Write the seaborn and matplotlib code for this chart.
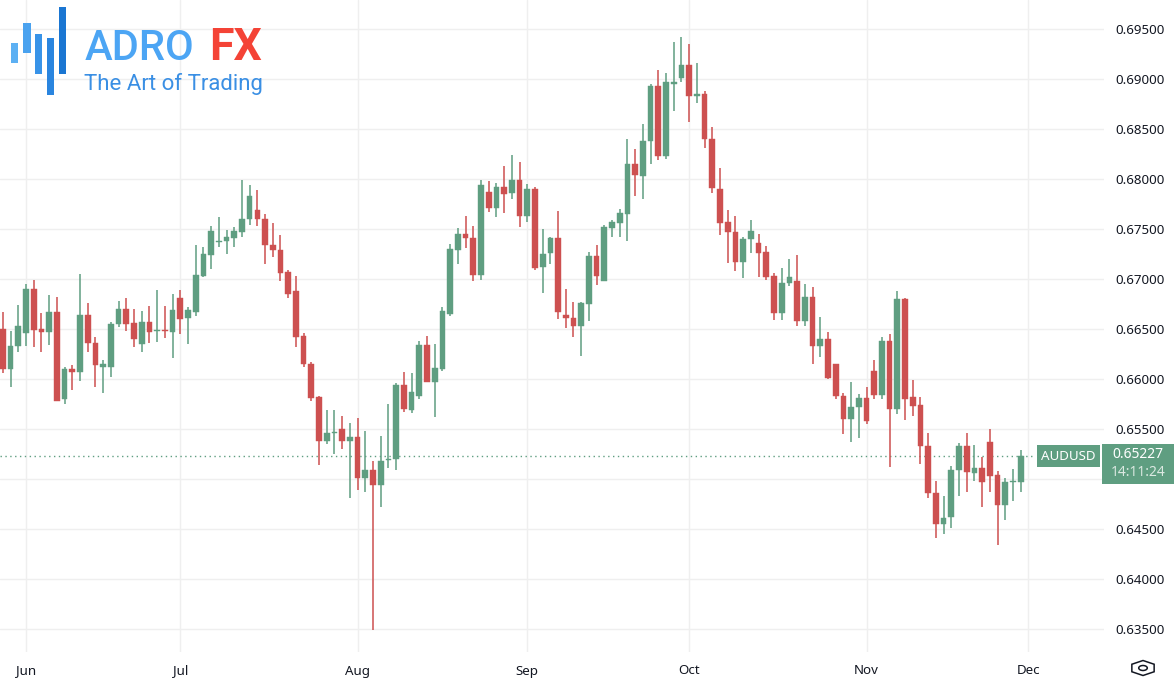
import numpy as np
import pandas as pd
import matplotlib
matplotlib.use("Agg")
import matplotlib.pyplot as plt
from matplotlib.patches import Rectangle, RegularPolygon, Circle
import seaborn as sns

# ---------------- data (AUDUSD daily) ----------------
dates = pd.bdate_range("2024-05-29", "2024-11-29")
open_ = [0.6650, 0.6610, 0.6633, 0.6646, 0.6690, 0.6650, 0.6647, 0.6667, 0.6580, 0.6610,
         0.6607, 0.6664, 0.6636, 0.6612, 0.6612, 0.6655, 0.6670, 0.6656, 0.6635, 0.6657,
         0.6648, 0.6649, 0.6647, 0.6681, 0.6661, 0.6667, 0.6703, 0.6724, 0.6737, 0.6738,
         0.6741, 0.6747, 0.6760, 0.6769, 0.6760, 0.6734, 0.6729, 0.6707, 0.6688, 0.6643,
         0.6615, 0.6582, 0.6538, 0.6546, 0.6550, 0.6538, 0.6542, 0.6501, 0.6509, 0.6494,
         0.6519, 0.6520, 0.6594, 0.6569, 0.6583, 0.6634, 0.6597, 0.6610, 0.6665, 0.6729,
         0.6745, 0.6741, 0.6704, 0.6787, 0.6771, 0.6792, 0.6786, 0.6799, 0.6763, 0.6790,
         0.6712, 0.6726, 0.6741, 0.6664, 0.6661, 0.6653, 0.6675, 0.6723, 0.6698, 0.6751,
         0.6756, 0.6765, 0.6815, 0.6803, 0.6838, 0.6893, 0.6823, 0.6895, 0.6901, 0.6914,
         0.6883, 0.6885, 0.6840, 0.6790, 0.6757, 0.6747, 0.6717, 0.6740, 0.6736, 0.6727,
         0.6703, 0.6666, 0.6696, 0.6698, 0.6658, 0.6682, 0.6633, 0.6640, 0.6615, 0.6583,
         0.6560, 0.6572, 0.6581, 0.6608, 0.6584, 0.6638, 0.6570, 0.6680, 0.6582, 0.6574,
         0.6533, 0.6486, 0.6455, 0.6462, 0.6509, 0.6533, 0.6506, 0.6511, 0.6537, 0.6504,
         0.6474, 0.6497, 0.6497]
high = [0.6667, 0.6648, 0.6674, 0.6695, 0.6699, 0.6666, 0.6684, 0.6682, 0.6612, 0.6614,
        0.6705, 0.6676, 0.6642, 0.6619, 0.6657, 0.6678, 0.6681, 0.6670, 0.6668, 0.6673,
        0.6689, 0.6673, 0.6685, 0.6689, 0.6672, 0.6734, 0.6732, 0.6753, 0.6762, 0.6749,
        0.6752, 0.6799, 0.6794, 0.6789, 0.6765, 0.6756, 0.6744, 0.6709, 0.6703, 0.6646,
        0.6617, 0.6583, 0.6569, 0.6569, 0.6563, 0.6556, 0.6561, 0.6548, 0.6518, 0.6543,
        0.6575, 0.6596, 0.6607, 0.6606, 0.6638, 0.6643, 0.6635, 0.6672, 0.6735, 0.6751,
        0.6763, 0.6753, 0.6799, 0.6798, 0.6796, 0.6813, 0.6824, 0.6817, 0.6795, 0.6792,
        0.6750, 0.6742, 0.6768, 0.6690, 0.6677, 0.6677, 0.6727, 0.6734, 0.6754, 0.6759,
        0.6770, 0.6840, 0.6830, 0.6855, 0.6895, 0.6909, 0.6906, 0.6937, 0.6942, 0.6935,
        0.6916, 0.6888, 0.6852, 0.6811, 0.6769, 0.6763, 0.6742, 0.6759, 0.6745, 0.6733,
        0.6706, 0.6711, 0.6720, 0.6724, 0.6695, 0.6692, 0.6662, 0.6647, 0.6615, 0.6586,
        0.6597, 0.6585, 0.6592, 0.6619, 0.6642, 0.6645, 0.6688, 0.6681, 0.6599, 0.6582,
        0.6546, 0.6498, 0.6483, 0.6513, 0.6536, 0.6546, 0.6534, 0.6522, 0.6550, 0.6508,
        0.6501, 0.6510, 0.6529]
low = [0.6606, 0.6592, 0.6627, 0.6633, 0.6632, 0.6627, 0.6634, 0.6578, 0.6575, 0.6589,
       0.6598, 0.6627, 0.6592, 0.6586, 0.6602, 0.6652, 0.6648, 0.6632, 0.6627, 0.6636,
       0.6637, 0.6641, 0.6621, 0.6645, 0.6635, 0.6663, 0.6702, 0.6710, 0.6732, 0.6725,
       0.6732, 0.6742, 0.6754, 0.6753, 0.6715, 0.6722, 0.6698, 0.6681, 0.6632, 0.6612,
       0.6578, 0.6514, 0.6535, 0.6525, 0.6530, 0.6481, 0.6489, 0.6487, 0.6349, 0.6472,
       0.6511, 0.6509, 0.6567, 0.6566, 0.6580, 0.6597, 0.6562, 0.6608, 0.6663, 0.6715,
       0.6731, 0.6698, 0.6699, 0.6767, 0.6762, 0.6766, 0.6780, 0.6752, 0.6757, 0.6709,
       0.6686, 0.6715, 0.6660, 0.6651, 0.6642, 0.6623, 0.6658, 0.6694, 0.6698, 0.6742,
       0.6742, 0.6738, 0.6783, 0.6780, 0.6815, 0.6819, 0.6820, 0.6868, 0.6897, 0.6857,
       0.6876, 0.6831, 0.6786, 0.6744, 0.6716, 0.6708, 0.6701, 0.6726, 0.6702, 0.6699,
       0.6659, 0.6659, 0.6693, 0.6653, 0.6653, 0.6615, 0.6622, 0.6600, 0.6580, 0.6545,
       0.6537, 0.6541, 0.6555, 0.6580, 0.6580, 0.6512, 0.6565, 0.6559, 0.6563, 0.6515,
       0.6481, 0.6441, 0.6445, 0.6451, 0.6483, 0.6487, 0.6498, 0.6472, 0.6487, 0.6434,
       0.6459, 0.6478, 0.6487]
close = [0.6610, 0.6633, 0.6653, 0.6690, 0.6649, 0.6647, 0.6667, 0.6578, 0.6610, 0.6607,
         0.6664, 0.6636, 0.6614, 0.6615, 0.6655, 0.6670, 0.6655, 0.6640, 0.6657, 0.6647,
         0.6649, 0.6648, 0.6669, 0.6660, 0.6669, 0.6704, 0.6725, 0.6748, 0.6738, 0.6742,
         0.6748, 0.6760, 0.6783, 0.6760, 0.6734, 0.6729, 0.6706, 0.6685, 0.6642, 0.6615,
         0.6581, 0.6538, 0.6546, 0.6547, 0.6538, 0.6542, 0.6501, 0.6509, 0.6494, 0.6518,
         0.6520, 0.6594, 0.6570, 0.6587, 0.6634, 0.6597, 0.6611, 0.6668, 0.6730, 0.6745,
         0.6741, 0.6704, 0.6794, 0.6771, 0.6792, 0.6785, 0.6799, 0.6763, 0.6790, 0.6711,
         0.6725, 0.6741, 0.6667, 0.6661, 0.6653, 0.6676, 0.6723, 0.6703, 0.6752, 0.6757,
         0.6766, 0.6815, 0.6804, 0.6838, 0.6893, 0.6823, 0.6897, 0.6897, 0.6914, 0.6883,
         0.6885, 0.6840, 0.6791, 0.6756, 0.6747, 0.6717, 0.6740, 0.6748, 0.6726, 0.6702,
         0.6666, 0.6696, 0.6702, 0.6658, 0.6682, 0.6633, 0.6640, 0.6601, 0.6583, 0.6560,
         0.6572, 0.6581, 0.6558, 0.6584, 0.6638, 0.6570, 0.6680, 0.6580, 0.6573, 0.6533,
         0.6486, 0.6455, 0.6461, 0.6509, 0.6533, 0.6507, 0.6511, 0.6497, 0.6503, 0.6474,
         0.6497, 0.6498, 0.65227]
month_labels = ["Jun", "Jul", "Aug", "Sep", "Oct", "Nov", "Dec"]
yticks = [0.635, 0.640, 0.645, 0.650, 0.655, 0.660, 0.665, 0.670,
          0.675, 0.680, 0.685, 0.690, 0.695]
symbol = "AUDUSD"
last_price_text = "0.65227"
countdown_text = "14:11:24"

# ---------------- styling ----------------
sns.set_theme(style="white")
plt.rcParams["font.family"] = ["Noto Sans", "DejaVu Sans"]

W, H = 1174, 684
fig = plt.figure(figsize=(W / 100, H / 100), dpi=100)
fig.patch.set_facecolor("white")

def fx(x):
    return x / W

def fy(y):
    return 1 - y / H

ax = fig.add_axes([0, fy(652), fx(1104), (652) / H])
ax.set_facecolor("white")

UP = "#5f9e81"
DOWN = "#cd5050"
GRID = "#efefef"

df = pd.DataFrame({"date": dates, "open": open_, "high": high, "low": low, "close": close})
df["idx"] = np.arange(len(df))
df["up"] = df["close"] >= df["open"]
df["color"] = np.where(df["up"], UP, DOWN)
df["body_lo"] = df[["open", "close"]].min(axis=1)
df["body_h"] = (df["open"] - df["close"]).abs().clip(lower=0.00012)

# month tick positions (first trading day of each month; Dec is after last bar)
all_days = pd.bdate_range("2024-05-29", "2024-12-06")
first_days = all_days.to_series().groupby([all_days.year, all_days.month]).first()
month_pos = []
for d in first_days:
    if 6 <= d.month <= 12:
        month_pos.append(int(np.where(all_days == d)[0][0]))

# grid
for yv in yticks:
    ax.axhline(yv, color=GRID, lw=1, zorder=0)
for xp in month_pos:
    ax.axvline(xp, color=GRID, lw=1, zorder=0)

# wicks and bodies
ax.vlines(df["idx"], df["low"], df["high"], colors=df["color"], lw=1.1, zorder=2)
ax.bar(df["idx"], df["body_h"], bottom=df["body_lo"], width=0.74,
       color=df["color"], edgecolor=df["color"], linewidth=0.3, zorder=3)

# last price dotted line
ax.axhline(close[-1], xmin=0, xmax=fx(1035) / fx(1104), color=UP, lw=1,
           linestyle=(0, (1, 2.5)), zorder=1)

ax.set_xlim(-0.376, 142.8)
ax.set_ylim(0.6327, 0.6979)

ax.yaxis.tick_right()
ax.set_yticks(yticks)
ax.set_yticklabels([f"{v:.5f}" for v in yticks])
ax.set_xticks(month_pos)
ax.set_xticklabels(month_labels)
ax.tick_params(axis="y", length=0, pad=8, labelsize=9.6, labelcolor="#131722")
ax.tick_params(axis="x", length=0, pad=9, labelsize=9.6, labelcolor="#131722")
sns.despine(ax=ax, left=True, bottom=True, right=True, top=True)

# price boxes on the right scale
fig.add_artist(Rectangle((fx(1037), fy(467)), fx(63), 22 / H, transform=fig.transFigure,
                         facecolor=UP, edgecolor="none", zorder=10))
fig.text(fx(1068.5), fy(456), symbol, color="white", fontsize=9.6, fontweight="bold",
         ha="center", va="center", zorder=11)
fig.add_artist(Rectangle((fx(1102), fy(484)), fx(72), 40 / H, transform=fig.transFigure,
                         facecolor=UP, edgecolor="none", zorder=10))
fig.text(fx(1138), fy(455), last_price_text, color="white", fontsize=10, fontweight="bold",
         ha="center", va="center", zorder=11)
fig.text(fx(1138), fy(473), countdown_text, color="#dce9e2", fontsize=10,
         ha="center", va="center", zorder=11)

# settings icon
fig.add_artist(RegularPolygon((fx(1143), fy(668)), numVertices=6, radius=7.5 / H,
                              orientation=0, transform=fig.transFigure, facecolor="none",
                              edgecolor="#131722", lw=1.1, zorder=10))
fig.add_artist(Circle((fx(1143), fy(668)), radius=2.5 / H, transform=fig.transFigure,
                      facecolor="none", edgecolor="#131722", lw=1.1, zorder=10))

# logo
logo_bars = [(11, 43, 7, 20, "#5cb0f3"), (23, 23, 8, 30, "#4aa2ef"), (35, 34, 7, 40, "#3893e8"),
             (47, 38, 7, 57, "#2a85df"), (59, 7, 7, 67, "#1a76d2")]
for x0, y0, w, h, c in logo_bars:
    fig.add_artist(Rectangle((fx(x0), fy(y0 + h)), fx(w), h / H, transform=fig.transFigure,
                             facecolor=c, edgecolor="none", zorder=10))
fig.text(fx(85), fy(48), "ADRO", color="#4ca5f4", fontsize=30, fontweight="medium",
         family=["Roboto", "DejaVu Sans"], ha="left", va="center", zorder=11)
fig.text(fx(262), fy(48), "FX", color="#f44336", fontsize=32, fontweight="bold",
         family=["Roboto", "DejaVu Sans"], ha="right", va="center", zorder=11)
fig.text(fx(84), fy(84), "The Art of Trading", color="#3a8fe4", fontsize=16,
         family=["Roboto", "DejaVu Sans"], ha="left", va="center", zorder=11)

fig.savefig("out.png", dpi=100, facecolor="white")
